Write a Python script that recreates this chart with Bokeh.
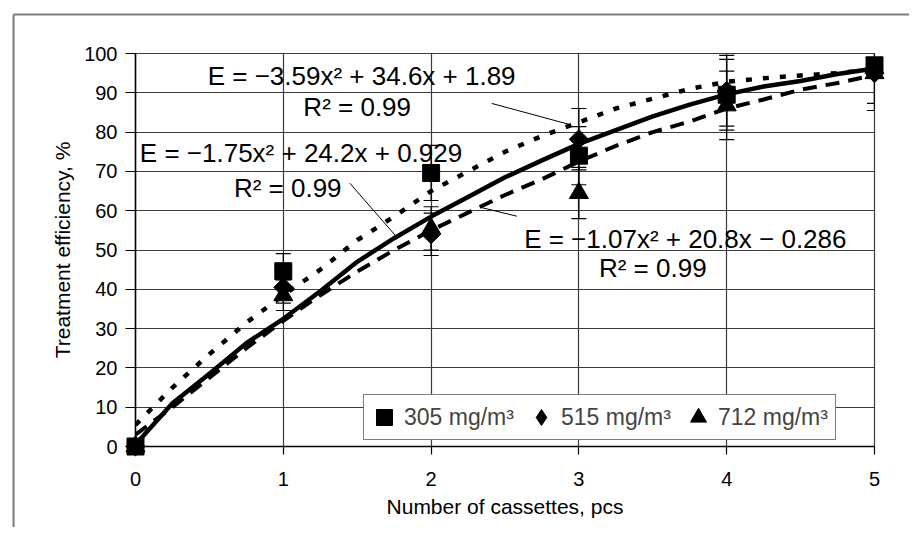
from bokeh.plotting import figure
from bokeh.models import (ColumnDataSource, Label, Legend, LegendItem, Whisker, TeeHead,
                          Range1d)
from bokeh.embed import file_html
from bokeh.resources import INLINE
import math

# ---------------- data ----------------
x_ticks = [0, 1, 2, 3, 4, 5]
y_ticks = [0, 10, 20, 30, 40, 50, 60, 70, 80, 90, 100]

cassettes = [0, 1, 2, 3, 4, 5]
eff_305 = [0.0, 44.6, 69.6, 74.0, 89.5, 97.0]
err_305 = [0.0, 4.5, 7.0, 7.4, 9.0, 9.7]
eff_515 = [0.0, 40.5, 54.0, 78.2, 90.5, 95.0]
err_515 = [0.0, 4.0, 5.4, 7.8, 9.0, 9.5]
eff_712 = [0.0, 38.5, 55.5, 64.5, 86.8, 95.0]
err_712 = [0.0, 3.9, 5.5, 6.5, 8.7, 9.5]

series_labels = ["305 mg/m³", "515 mg/m³", "712 mg/m³"]

trend_x = [0, 0.25, 0.5, 0.75, 1, 1.25, 1.5, 1.75, 2, 2.25, 2.5,
           2.75, 3, 3.25, 3.5, 3.75, 4, 4.25, 4.5, 4.75, 5]
trend_upper = [5.5, 15, 23.5, 31.5, 38.5, 45, 52.5, 58.5, 65, 70, 75,
               79, 82.5, 86, 88.5, 91, 92.8, 93.7, 94.4, 95, 96]
trend_mid = [0.5, 11, 18.5, 26.3, 32.5, 39.5, 47, 53, 58.5, 63.5, 68.5,
             72.8, 77, 80.5, 84, 87, 89.6, 91.6, 93, 94.8, 96.2]
trend_lower = [3, 10, 17.5, 25, 32, 38.5, 44.5, 50, 55, 59.5, 64,
               68, 72.5, 76.5, 80, 82.7, 86, 88.3, 90.8, 92.5, 94.5]

eq_texts = ["E = −3.59x² + 34.6x + 1.89",
            "E = −1.75x² + 24.2x + 0.929",
            "E = −1.07x² + 20.8x − 0.286"]
r2_texts = ["R² = 0.99", "R² = 0.99", "R² = 0.99"]

x_title = "Number of cassettes, pcs"
y_title = "Treatment efficiency, %"

FONT = "Liberation Sans"

# ---------------- figure ----------------
p = figure(width=909, height=527, output_backend="svg", toolbar_location=None,
           x_range=Range1d(x_ticks[0], x_ticks[-1]),
           y_range=Range1d(y_ticks[0], y_ticks[-1]),
           min_border_left=135, min_border_right=35, min_border_top=53,
           min_border_bottom=81)
p.background_fill_color = "white"
p.border_fill_color = "white"
p.outline_line_color = "#3a3a3a"
p.outline_line_width = 1.2

p.xgrid.ticker = x_ticks
p.ygrid.ticker = y_ticks
for g in (p.xgrid[0], p.ygrid[0]):
    g.grid_line_color = "#3a3a3a"
    g.grid_line_width = 1.2
    g.grid_line_alpha = 1.0

for ax, ticks, tout in ((p.xaxis[0], x_ticks, 8), (p.yaxis[0], y_ticks, 10)):
    ax.ticker = ticks
    ax.axis_line_color = "black"
    ax.axis_line_width = 1.5
    ax.major_tick_line_color = "black"
    ax.major_tick_line_width = 1.2
    ax.major_tick_out = tout
    ax.major_tick_in = 0
    ax.minor_tick_line_color = None
    ax.major_label_text_font = FONT
    ax.major_label_text_font_size = "20px"
    ax.major_label_text_color = "black"
    ax.axis_label_text_font = FONT
    ax.axis_label_text_font_size = "21px"
    ax.axis_label_text_font_style = "normal"
    ax.axis_label_text_color = "black"

p.xaxis.axis_label = x_title
p.yaxis.axis_label = y_title
p.xaxis.major_label_standoff = 17
p.xaxis.axis_label_standoff = 6
p.yaxis.major_label_standoff = 8
p.yaxis.axis_label_standoff = 7

# outer frame of the picture (left and top edges), drawn unclipped
p.segment(x0=[-0.825, -0.825], y0=[109.9, 109.9], x1=[-0.825, 8.0], y1=[-40.0, 109.9],
          line_color="#7a7a7a", line_width=2, level="overlay")

# error bars
for eff, err in ((eff_305, err_305), (eff_515, err_515), (eff_712, err_712)):
    src = ColumnDataSource(dict(x=cassettes,
                                up=[v + e for v, e in zip(eff, err)],
                                lo=[v - e for v, e in zip(eff, err)]))
    w = Whisker(base="x", upper="up", lower="lo", source=src, dimension="height",
                line_color="black", line_width=1.2, level="overlay",
                upper_head=TeeHead(size=15, line_color="black", line_width=1.2),
                lower_head=TeeHead(size=15, line_color="black", line_width=1.2))
    p.add_layout(w)

# trend lines
p.line(trend_x, trend_upper, line_color="black", line_width=4.5, line_dash="6 11")
p.line(trend_x, trend_lower, line_color="black", line_width=4, line_dash="14 9")
p.line(trend_x, trend_mid, line_color="black", line_width=4.5, line_join="round")

# markers (drawn above the frame clip so edge points stay whole)
r305 = p.scatter(cassettes, eff_305, marker="square", size=17, color="black",
                 level="overlay")
p.scatter(cassettes, eff_515, marker="square", angle=math.pi / 4, size=13.5,
          color="black", level="overlay")
r712 = p.scatter(cassettes, eff_712, marker="triangle", size=19, color="black",
                 level="overlay")
# diamond key for the legend (the legend sizes its own glyph)
r515_key = p.scatter(cassettes, eff_515, marker="diamond", size=0, color="black",
                     level="overlay")

# equation labels
eq_pos = [(1.53, 94.4), (1.12, 74.8), (3.72, 52.7)]
r2_pos = [(1.50, 86.3), (1.03, 65.9), (3.50, 45.3)]
for t, (lx, ly) in zip(eq_texts, eq_pos):
    p.add_layout(Label(x=lx, y=ly, text=t, text_font=FONT, text_font_size="26px",
                       text_align="center", text_baseline="middle", text_color="black"))
for t, (lx, ly) in zip(r2_texts, r2_pos):
    p.add_layout(Label(x=lx, y=ly, text=t, text_font=FONT, text_font_size="26px",
                       text_align="center", text_baseline="middle", text_color="black"))

# leader lines
p.segment(x0=[2.41, 1.45, 2.33], y0=[87.3, 67.0, 60.9],
          x1=[2.93, 1.77, 2.58], y1=[82.0, 53.2, 58.6],
          line_color="black", line_width=1)

legend = Legend(items=[LegendItem(label=series_labels[0], renderers=[r305]),
                       LegendItem(label=series_labels[1], renderers=[r515_key]),
                       LegendItem(label=series_labels[2], renderers=[r712])],
                orientation="horizontal", location=(228, 6),
                glyph_width=40, glyph_height=44, padding=0, spacing=0,
                label_standoff=0, label_width=117,
                label_text_font=FONT, label_text_font_size="23px",
                label_text_baseline="middle",
                border_line_color="black", border_line_width=1,
                background_fill_color="white", background_fill_alpha=1.0,
                margin=0)
p.add_layout(legend, "center")

open("out.html", "w").write(file_html(p, INLINE))
